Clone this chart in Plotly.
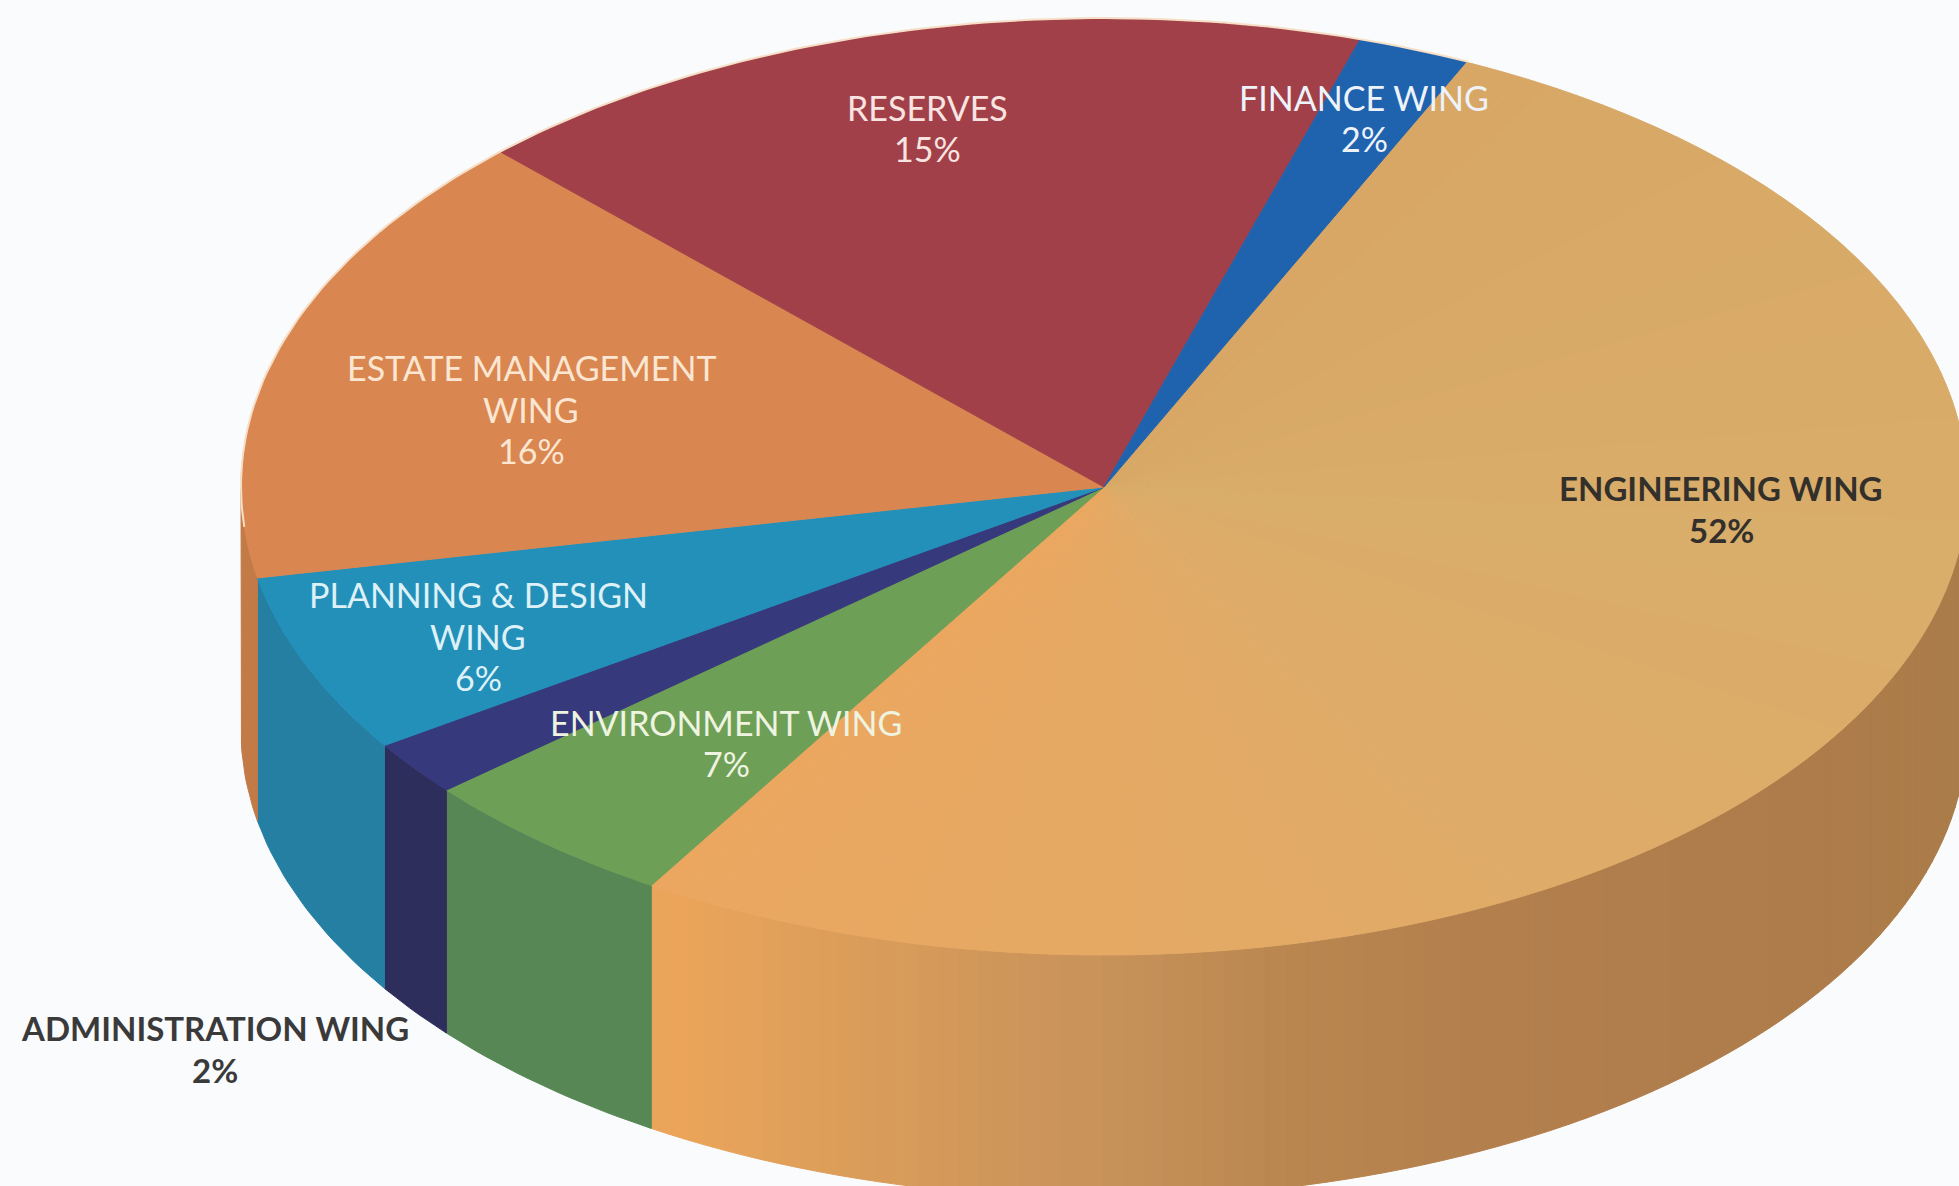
import numpy as np
import plotly.graph_objects as go

# ---- data, clockwise from the Finance / Engineering edge ----
categories = ["ENGINEERING WING", "ENVIRONMENT WING", "ADMINISTRATION WING",
              "PLANNING & DESIGN WING", "ESTATE MANAGEMENT WING", "RESERVES", "FINANCE WING"]
printed_percent = [52, 7, 2, 6, 16, 15, 2]
# slice sizes as actually drawn in the picture (they differ a little from the printed labels)
drawn_share = [51.9, 5.0, 1.9, 6.2, 15.8, 17.1, 2.1]
label_lines = [["ENGINEERING WING"], ["ENVIRONMENT WING"], ["ADMINISTRATION WING"],
               ["PLANNING &amp; DESIGN", "WING"], ["ESTATE MANAGEMENT", "WING"],
               ["RESERVES"], ["FINANCE WING"]]

# ---- styles and layout ----
top_colors = ["#DCAA67", "#6E9F57", "#36397C", "#2390BA", "#D98651", "#A24049", "#1F63AE"]
side_colors = ["#C08A52", "#568755", "#2E2E5C", "#247FA2", "#C27A47", "#7A3038", "#164A82"]
label_colors = ["#33302B", "#EEF4E0", "#3A3A3A", "#DDF1F7", "#FBE6D2", "#F8E4E0", "#EEF3FA"]
label_bold = [True, False, True, False, False, False, False]
label_x = [1721, 726, 215, 478, 531, 927, 1364]
label_y = [509, 743, 1049, 636, 409, 128, 118]
label_size = [33, 34, 33, 34, 34, 34, 34]
LINE_STEP = 41.5
W, H = 1959, 1186
CX, CY, RX, RY, DEPTH = 1104, 487, 863, 468, 243
START_DEG = 24.8
ENG_TOP_STOPS = [(24, "#D8A765"), (100, "#D9AD6A"), (150, "#DFAB68"), (212, "#EBA760")]
ENG_SIDE_STOPS = [(90, "#A97C48"), (125, "#AD7C4A"), (153, "#B27F4D"), (167, "#B98650"),
                  (180, "#C8925A"), (200, "#DE9F5A"), (208, "#EAA45A"), (212, "#ECA55B")]


def rgb(c):
    return np.array([int(c[i:i + 2], 16) for i in (1, 3, 5)], float)


def ramp(stops, deg):
    xs = [s[0] for s in stops]
    cols = np.array([rgb(s[1]) for s in stops])
    v = [np.interp(deg, xs, cols[:, k]) for k in range(3)]
    return "#%02X%02X%02X" % tuple(int(round(a)) for a in v)


def rim(deg, drop=0.0):
    t = np.radians(np.asarray(deg, float))
    return CX + RX * np.sin(t), CY - RY * np.cos(t) + drop


def poly(fig, xs, ys, color):
    fig.add_trace(go.Scatter(x=xs, y=ys, mode="lines", fill="toself", fillcolor=color,
                             line=dict(color=color, width=1), hoverinfo="skip", showlegend=False))


def top_piece(fig, a, b, color):
    d = np.linspace(a, b, max(3, int(abs(b - a)) + 2))
    x, y = rim(d)
    poly(fig, np.r_[CX, x, CX], np.r_[CY, y, CY], color)


def side_piece(fig, a, b, color):
    a, b = max(a, 90), min(b, 270)
    if b <= a:
        return
    d = np.linspace(a, b, max(3, int(b - a) + 2))
    x, y = rim(d)
    xb, yb = rim(d[::-1], DEPTH)
    poly(fig, np.r_[x, xb, x[0]], np.r_[y, yb, y[0]], color)


edges = START_DEG + np.r_[0, np.cumsum(drawn_share)] * 3.6
fig = go.Figure()

# side walls
for i in range(len(categories)):
    a, b = edges[i], edges[i + 1]
    if i == 0:
        steps = np.linspace(max(a, 90), b, 90)
        for s, e in zip(steps[:-1], steps[1:]):
            side_piece(fig, s, e, ramp(ENG_SIDE_STOPS, (s + e) / 2))
    else:
        side_piece(fig, a, b, side_colors[i])

# top faces
for i in range(len(categories)):
    a, b = edges[i], edges[i + 1]
    if i == 0:
        steps = np.linspace(a, b, 90)
        for s, e in zip(steps[:-1], steps[1:]):
            top_piece(fig, s, e, ramp(ENG_TOP_STOPS, (s + e) / 2))
    else:
        top_piece(fig, a, b, top_colors[i])

# pale edge on the back of the disc
back = np.linspace(265, 385, 121)
bx, by = rim(back)
fig.add_trace(go.Scatter(x=bx, y=by - 1, mode="lines", line=dict(color="#F6DFC6", width=2),
                         hoverinfo="skip", showlegend=False))

for i, name in enumerate(categories):
    lines = label_lines[i] + [f"{printed_percent[i]}%"]
    first = label_y[i] - LINE_STEP * (len(lines) - 1) / 2
    for k, line in enumerate(lines):
        body = f"<b>{line}</b>" if label_bold[i] else line
        fig.add_annotation(x=label_x[i], y=first + k * LINE_STEP, text=body, showarrow=False,
                           xanchor="center", yanchor="middle",
                           font=dict(family="Lato", size=label_size[i], color=label_colors[i]))

fig.update_layout(width=W, height=H, autosize=False, margin=dict(l=0, r=0, t=0, b=0),
                  paper_bgcolor="#FAFBFD", plot_bgcolor="#FAFBFD", showlegend=False,
                  xaxis=dict(range=[0, W], visible=False, fixedrange=True),
                  yaxis=dict(range=[H, 0], visible=False, fixedrange=True))

fig.write_html("out.html", config={"displayModeBar": False},
               post_script="document.body.style.margin='0';document.body.style.overflow='hidden';")
